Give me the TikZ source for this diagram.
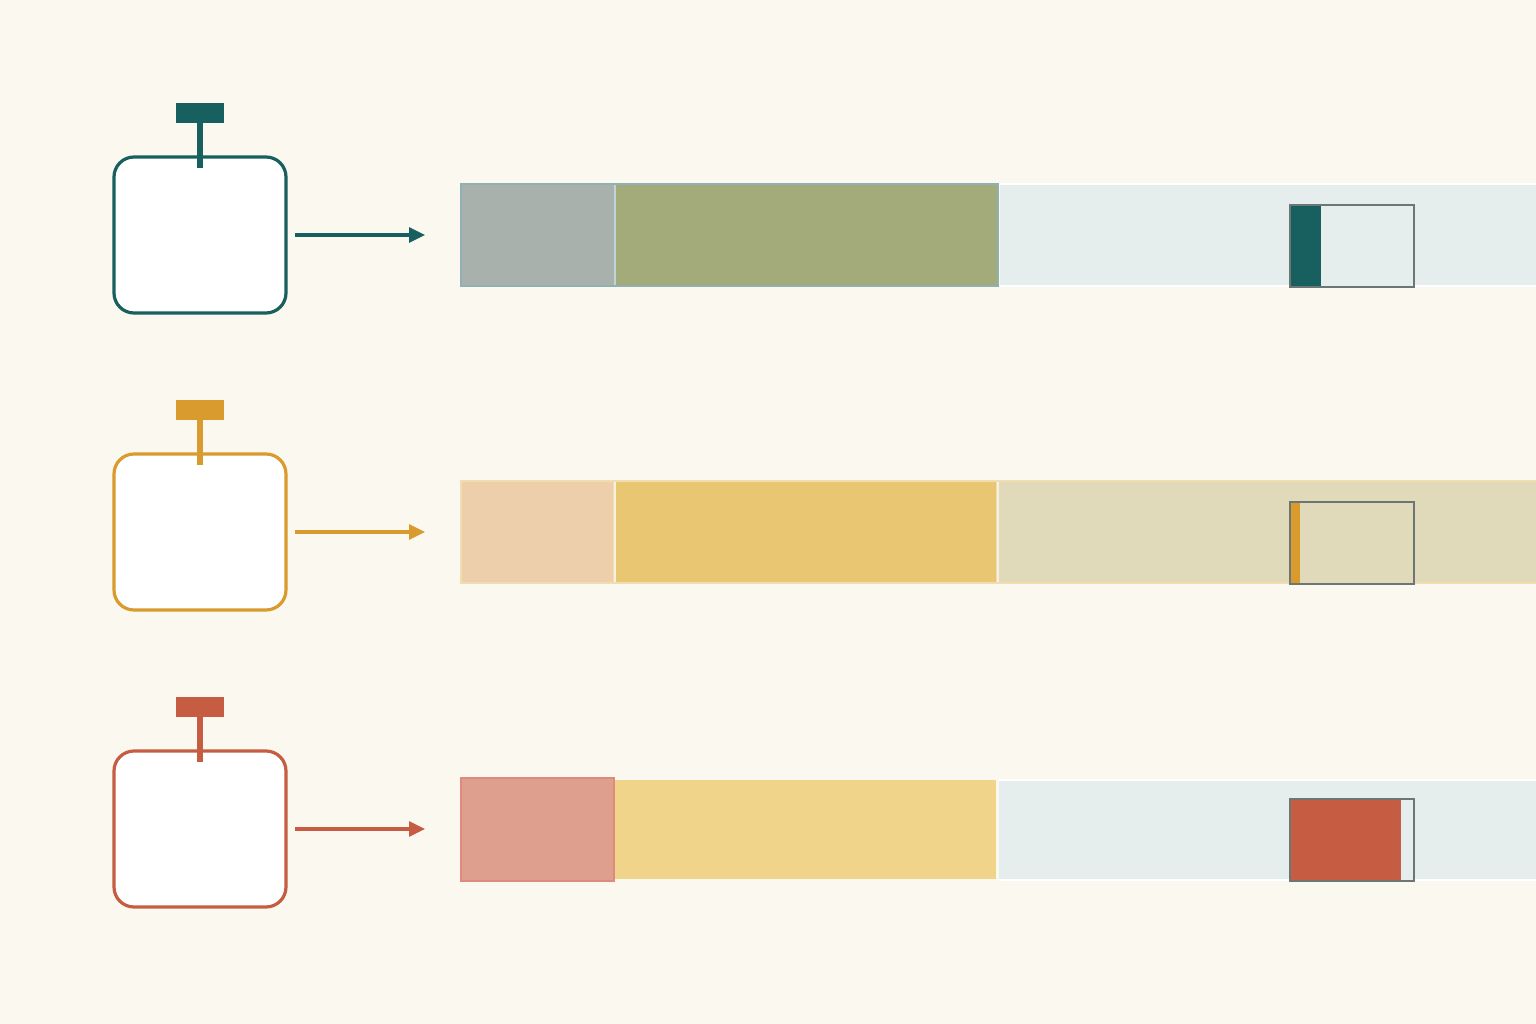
\documentclass[tikz,border=0pt]{standalone}
\usetikzlibrary{arrows.meta}
\definecolor{bg}{HTML}{FBF8F0}
\definecolor{teal}{HTML}{17605F}
\definecolor{ochre}{HTML}{D99A2E}
\definecolor{rust}{HTML}{C65D43}
\definecolor{lightband}{HTML}{E5EEEC}
\definecolor{gauge}{HTML}{6C7675}
\definecolor{segA}{HTML}{A8B1AC}
\definecolor{segB}{HTML}{A4AB7B}
\definecolor{segAb}{HTML}{8FB1B3}
\definecolor{segC}{HTML}{EDCFAC}
\definecolor{segD}{HTML}{E9C672}
\definecolor{segE}{HTML}{E0D9BA}
\definecolor{segEb}{HTML}{F0DDB0}
\definecolor{segF}{HTML}{DE9F8F}
\definecolor{segFb}{HTML}{E08A7F}
\definecolor{segG}{HTML}{F0D48A}
\tikzset{
  card/.style={draw=#1, fill=white, line width=3.2pt, rounded corners=20pt, minimum width=172pt, minimum height=156pt, inner sep=0pt, outer sep=0pt},
  tag/.style={fill=#1, minimum width=48pt, minimum height=20pt, inner sep=0pt, outer sep=0pt},
  link/.style={draw=#1, line width=3.2pt, -{Triangle[length=16pt,width=15pt]}, shorten <=9pt, shorten >=35pt},
  stem/.style={draw=#1, line width=6pt},
  gaugebox/.style={draw=gauge, line width=2.6pt}
}
\begin{document}
\begin{tikzpicture}[x=1pt,y=-1pt]
\useasboundingbox (0,0) rectangle (1536,1024);
\fill[bg] (0,0) rectangle (1536,1024);

% ---------- Row 1 ----------
\node[card=teal] (c1) at (200,235) {};
\node[tag=teal] (t1) at (200,113) {};
\draw[stem=teal] (t1.south) -- ([yshift=-11pt]c1.north);
\coordinate (b1) at (460,235);
\fill[lightband] (1000,184) rectangle (1536,286);
\draw[white, line width=2.5pt] (1000,184) -- (1536,184) (1000,286) -- (1536,286);
\fill[segA] (461,184) rectangle (614,286);
\fill[segB] (615,184) rectangle (998,286);
\draw[segAb!55!white, line width=2pt] (614.5,185) -- (614.5,285);
\draw[segAb, line width=2.2pt] (461,184) rectangle (998,286);
\fill[lightband] (1290,205) rectangle (1414,287);
\fill[teal] (1290,205) rectangle (1321,287);
\draw[gaugebox] (1290,205) rectangle (1414,287);
\draw[link=teal] (c1.east) -- (b1);

% ---------- Row 2 ----------
\node[card=ochre] (c2) at (200,532) {};
\node[tag=ochre] (t2) at (200,410) {};
\draw[stem=ochre] (t2.south) -- ([yshift=-11pt]c2.north);
\coordinate (b2) at (460,532);
\fill[segEb] (460,480) rectangle (1536,584);
\fill[segC] (462,482) rectangle (613,582);
\fill[segD] (616,482) rectangle (996,582);
\fill[segE] (999,482) rectangle (1536,582);
\draw[white!60!segEb, line width=2pt] (614.5,482) -- (614.5,582) (997.5,482) -- (997.5,582);
\fill[segE] (1290,502) rectangle (1414,584);
\fill[ochre] (1290,502) rectangle (1300,584);
\draw[gaugebox] (1290,502) rectangle (1414,584);
\draw[link=ochre] (c2.east) -- (b2);

% ---------- Row 3 ----------
\node[card=rust] (c3) at (200,829) {};
\node[tag=rust] (t3) at (200,707) {};
\draw[stem=rust] (t3.south) -- ([yshift=-11pt]c3.north);
\coordinate (b3) at (460,829);
\fill[lightband] (999,780) rectangle (1536,879);
\draw[white, line width=2.5pt] (999,780) -- (1536,780) (999,880) -- (1536,880);
\fill[segG] (615,780) rectangle (996,879);
\fill[segF] (461,778) rectangle (614,881);
\draw[segFb, line width=2.2pt] (461,778) rectangle (614,881);
\fill[lightband] (1290,799) rectangle (1414,881);
\fill[rust] (1290,799) rectangle (1401,881);
\draw[gaugebox] (1290,799) rectangle (1414,881);
\draw[link=rust] (c3.east) -- (b3);
\end{tikzpicture}
\end{document}
